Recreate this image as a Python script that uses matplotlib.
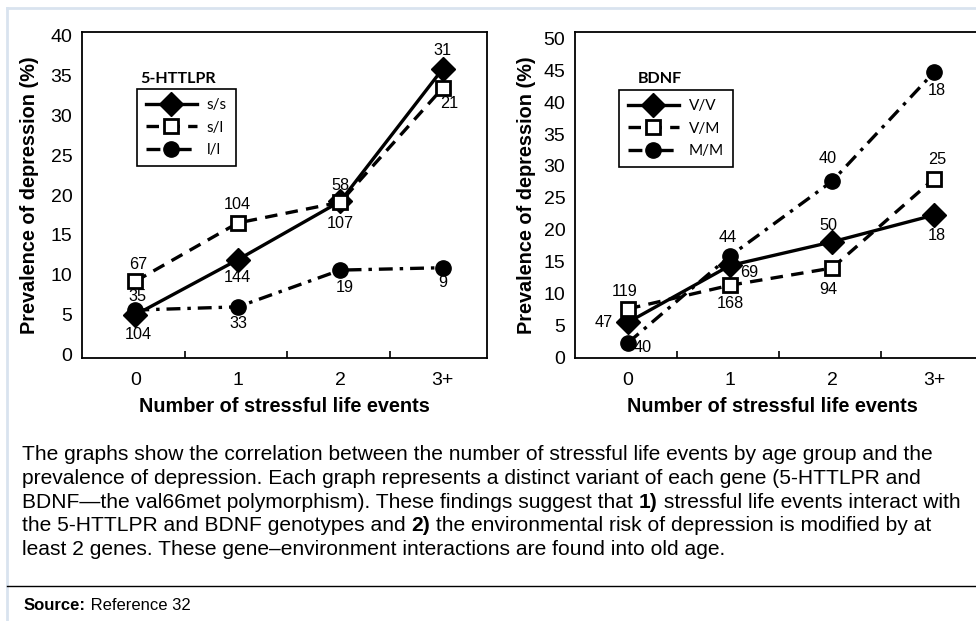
import matplotlib
matplotlib.use('Agg')
import matplotlib.pyplot as plt
from matplotlib.lines import Line2D

plt.rcParams['font.family'] = ['Liberation Sans', 'DejaVu Sans']
plt.rcParams['lines.scale_dashes'] = False

# data
events = ['0', '1', '2', '3+']

htt_labels = ['s/s', 's/l', 'l/l']
htt_ss = [5.0, 11.9, 19.2, 35.8]
htt_sl = [9.2, 16.5, 19.1, 33.4]
htt_ll = [5.6, 6.0, 10.6, 10.9]
htt_ss_n = ['104', '144', '107', '31']
htt_sl_n = ['67', '104', '58', '21']
htt_ll_n = ['35', '33', '19', '9']

bdnf_labels = ['V/V', 'V/M', 'M/M']
bdnf_vv = [5.5, 14.4, 18.1, 22.3]
bdnf_vm = [7.6, 11.3, 14.0, 28.0]
bdnf_mm = [2.3, 15.9, 27.6, 44.7]
bdnf_vv_n = ['47', '69', '50', '18']
bdnf_vm_n = ['119', '168', '94', '25']
bdnf_mm_n = ['40', '44', '40', '18']

caption = [
    [('The graphs show the correlation between the number of stressful life events by age group and the', 'normal')],
    [('prevalence of depression. Each graph represents a distinct variant of each gene (5-HTTLPR and', 'normal')],
    [('BDNF\u2014the val66met polymorphism). These findings suggest that ', 'normal'), ('1)', 'bold'),
     (' stressful life events interact with', 'normal')],
    [('the 5-HTTLPR and BDNF genotypes and ', 'normal'), ('2)', 'bold'),
     (' the environmental risk of depression is modified by at', 'normal')],
    [('least 2 genes. These gene\u2013environment interactions are found into old age.', 'normal')],
]

W, H = 976, 621
fig = plt.figure(figsize=(W / 100, H / 100), dpi=100)

DASH = (0, (9, 6))
DASHDOT = (0, (10, 5, 2.5, 5))
styles = [
    dict(ls='-', marker='D', ms=12, mfc='black', mec='black'),
    dict(ls=DASH, marker='s', ms=10, mfc='white', mec='black', mew=2),
    dict(ls=DASHDOT, marker='o', ms=11, mfc='black', mec='black'),
]


def make_panel(rect, xmax, ylim, yticks, series, labels, counts, offsets, title, leg_xy, title_xy):
    ax = fig.add_axes(rect)
    x = [i + 0.52 for i in range(len(events))]
    for vals, st in zip(series, styles):
        ax.plot(x, vals, color='black', lw=2.4, **st, zorder=3)
    # sample sizes next to each point
    for vals, ns, offs in zip(series, counts, offsets):
        for xi, v, n, (dx, dy) in zip(x, vals, ns, offs):
            ax.annotate(n, (xi, v), xytext=(dx, dy), textcoords='offset pixels',
                        ha='center', va='center', fontsize=11.7, zorder=4)
    ax.set_xlim(0, xmax)
    ax.set_ylim(*ylim)
    ax.set_yticks(yticks)
    ax.tick_params(axis='y', length=0, labelsize=14, pad=7)
    ax.set_xticks([1, 2, 3])
    ax.set_xticklabels([])
    ax.tick_params(axis='x', direction='in', length=5, width=1.2)
    for i, ev in enumerate(events):
        ax.text(x[i], -0.07, ev, transform=ax.get_xaxis_transform(), ha='center', va='center', fontsize=14)
    for s in ax.spines.values():
        s.set_linewidth(1.3)
    handles = [Line2D([], [], color='black', lw=2.4, **st) for st in styles]
    leg = ax.legend(handles, labels, loc='upper left', bbox_to_anchor=leg_xy,
                    frameon=True, fancybox=False, edgecolor='black', framealpha=1,
                    handlelength=3.3, handletextpad=0.65, borderpad=0.6, labelspacing=0.55,
                    borderaxespad=0, prop={'family': 'Lato', 'size': 11})
    leg.get_frame().set_linewidth(1.2)
    ax.text(*title_xy, title, transform=ax.transAxes, fontsize=11.6, fontweight='bold',
            family='Lato', ha='left', va='center')
    return ax


htt_offsets = [
    [(3, -20), (0, -18), (0, -22), (0, 18)],
    [(3, 17), (0, 18), (0, 17), (6, -16)],
    [(2, 14), (1, -17), (4, -17), (0, -15)],
]
bdnf_offsets = [
    [(-24, 0), (19, -7), (-4, 16), (3, -20)],
    [(-3, 17), (0, -18), (-4, -21), (3, 19)],
    [(15, -5), (-2, 18), (-4, 23), (3, -18)],
]

ax1 = make_panel([82 / W, 1 - 358 / H, 405 / W, 326 / H], 405 / 102.5, (-0.4, 40.4), range(0, 41, 5),
                 [htt_ss, htt_sl, htt_ll], htt_labels, [htt_ss_n, htt_sl_n, htt_ll_n], htt_offsets,
                 '5-HTTLPR', (0.136, 0.825), (0.143, 0.855))
ax2 = make_panel([575 / W, 1 - 358 / H, 401 / W, 326 / H], 401 / 102, (-0.1, 51), range(0, 51, 5),
                 [bdnf_vv, bdnf_vm, bdnf_mm], bdnf_labels, [bdnf_vv_n, bdnf_vm_n, bdnf_mm_n], bdnf_offsets,
                 'BDNF', (0.11, 0.822), (0.157, 0.855))
ax2.spines['right'].set_visible(False)

for cx, lx in [(284, 30), (772, 526)]:
    fig.text(cx / W, 1 - 407 / H, 'Number of stressful life events', ha='center', va='center',
             fontsize=14.3, fontweight='bold')
    fig.text(lx / W, 1 - 195 / H, 'Prevalence of depression (%)', ha='center', va='center',
             rotation=90, fontsize=14.3, fontweight='bold')


def text_run(x_px, y_px, pieces, size):
    # draw pieces one after another on the same line, measuring each
    renderer = fig.canvas.get_renderer()
    x = x_px
    for txt, wt in pieces:
        t = fig.text(x / W, 1 - y_px / H, txt, fontsize=size, fontweight=wt, ha='left', va='center')
        x = t.get_window_extent(renderer).x1


fig.canvas.draw()
for i, line in enumerate(caption):
    text_run(22, 455 + i * 23.6, line, 15.1)

# frame lines
blue = '#d9e3ef'
fig.add_artist(Line2D([7 / W, 1], [1 - 8 / H, 1 - 8 / H], color=blue, lw=2))
fig.add_artist(Line2D([7 / W, 7 / W], [0, 1 - 8 / H], color=blue, lw=2))
fig.add_artist(Line2D([7 / W, 1], [1 - 586 / H, 1 - 586 / H], color='black', lw=1))

text_run(24, 606, [('Source:', 'bold'), (' Reference 32', 'normal')], 12)

fig.savefig('out.png', dpi=100)
